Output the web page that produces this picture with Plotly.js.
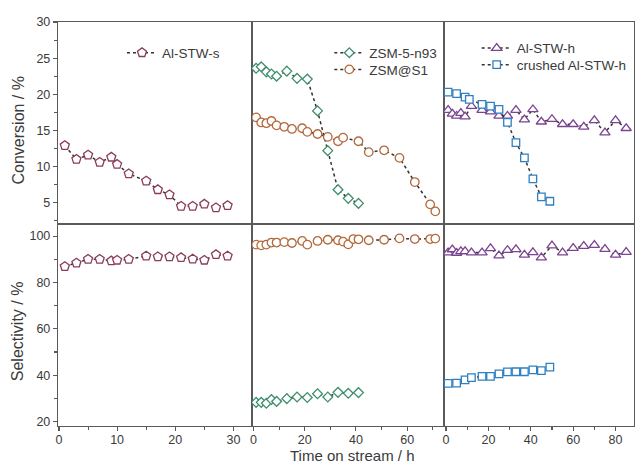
<!DOCTYPE html>
<html>
<head>
<meta charset="utf-8">
<script src="https://cdn.plot.ly/plotly-3.0.1.min.js"></script>
<style>html,body{margin:0;padding:0;background:#fff;}#chart{width:636px;height:464px;}</style>
</head>
<body>
<div id="chart"></div>
<script>
// ---- Data ----
const alstwsTime = [1,3,5,7,9,10,12,15,17,19,21,23,25,27,29];
const alstwsConv = [12.9,11.0,11.6,10.6,11.3,10.3,9.0,8.0,6.8,6.1,4.5,4.5,4.8,4.3,4.6];
const alstwsSel  = [86.9,88.4,90.0,90.0,89.3,89.6,90.0,91.4,91.1,91.1,90.7,90.1,89.6,92.0,91.4];

const zsm5Time = [1,3,5,7,9,13,17,21,25,29,33,37,41];
const zsm5Conv = [23.6,23.8,23.1,22.8,22.5,23.2,22.2,22.1,17.7,12.2,6.8,5.6,4.9];
const zsm5Sel  = [28.3,28.3,27.9,29.5,28.7,29.9,30.6,30.4,32.0,30.6,32.6,32.2,32.5];

const zsmS1TimeConv = [1,3,5,7,9,12,15,19,21,25,29,33,35,41,45,51,57,63,69,71];
const zsmS1Conv     = [16.8,16.1,16.0,16.3,15.7,15.5,15.2,15.3,14.8,14.5,14.1,13.5,14.0,13.5,12.0,12.25,11.2,7.85,4.76,3.8];
const zsmS1TimeSel  = [1,3,5,7,9,12,15,19,21,25,29,33,35,37,39,41,45,51,57,63,69,71];
const zsmS1Sel      = [96.3,96.0,96.3,97.2,97.2,97.4,97.0,97.9,96.3,97.9,98.4,98.2,97.6,96.4,98.7,98.6,98.2,98.4,99.0,98.7,98.7,98.9];

const alstwhTime = [1,3,5,7,9,12,17,21,25,29,33,37,41,45,50,55,60,65,70,75,80,85];
const alstwhConv = [17.8,17.3,17.0,17.4,16.9,18.35,17.8,17.6,17.0,17.0,17.8,16.5,17.9,16.2,16.55,15.85,15.85,15.5,16.4,14.7,16.4,15.3];
const alstwhSel  = [92.9,94.2,92.7,93.4,93.4,92.9,92.9,94.7,91.6,93.9,94.3,91.9,93.0,90.7,95.9,92.9,94.8,95.7,96.1,94.4,91.9,93.1];

const crushedTimeConv = [1,5,9,11,17,21,25,29,33,37,41,45,49];
const crushedConv     = [20.3,20.1,19.6,19.3,18.6,18.35,17.9,16.1,13.3,11.2,8.3,5.8,5.2];
const crushedTimeSel  = [1,5,9,12,17,21,25,29,33,37,41,45,49];
const crushedSel      = [36.5,36.6,38.0,39.0,39.5,39.5,40.6,41.4,41.5,41.5,42.3,42.0,43.5];

const xTickVals1 = [0,10,20,30];
const xTickVals2 = [0,20,40,60];
const xTickVals3 = [0,20,40,60,80];
const convTicks = [5,10,15,20,25,30];
const selTicks  = [20,40,60,80,100];

// ---- Styling ----
const W = 636, H = 464;
const px = v => v / W;
const py = v => 1 - v / H;
const FONT = 'Liberation Sans, Arial, sans-serif';
const AX = '#5a5a5a';
const TXT = '#3a3a3a';
const LINE = {color:'#333333', width:1.5, dash:'dot'};

const COL = {
  s: '#8b3c5c',
  zsm5: '#3e8e6c',
  s1: '#b3693c',
  h: '#7a4490',
  cr: '#2f80c2'
};

function tr(x, y, name, sym, size, col, xa, ya, legend, show) {
  return {
    x: x, y: y, name: name, type: 'scatter', mode: 'lines+markers',
    xaxis: xa, yaxis: ya,
    line: LINE,
    marker: {symbol: sym, size: size, color: '#ffffff', line: {color: col, width: 1.3}},
    showlegend: show, legend: legend,
    hoverinfo: 'skip'
  };
}

const data = [
  tr(alstwsTime, alstwsConv, 'Al-STW-s', 'pentagon', 9.5, COL.s, 'x', 'y', 'legend', true),
  tr(zsm5Time, zsm5Conv, 'ZSM-5-n93', 'diamond', 7.5, COL.zsm5, 'x2', 'y2', 'legend2', true),
  tr(zsmS1TimeConv, zsmS1Conv, 'ZSM@S1', 'circle', 8.5, COL.s1, 'x2', 'y2', 'legend3', true),
  tr(alstwhTime, alstwhConv, 'Al-STW-h', 'triangle-up', 9, COL.h, 'x3', 'y3', 'legend4', true),
  tr(crushedTimeConv, crushedConv, 'crushed Al-STW-h', 'square', 7.5, COL.cr, 'x3', 'y3', 'legend5', true),

  tr(alstwsTime, alstwsSel, 'Al-STW-s', 'pentagon', 9.5, COL.s, 'x4', 'y4', 'legend', false),
  tr(zsm5Time, zsm5Sel, 'ZSM-5-n93', 'diamond', 7.5, COL.zsm5, 'x5', 'y5', 'legend2', false),
  tr(zsmS1TimeSel, zsmS1Sel, 'ZSM@S1', 'circle', 8.5, COL.s1, 'x5', 'y5', 'legend3', false),
  tr(alstwhTime, alstwhSel, 'Al-STW-h', 'triangle-up', 9, COL.h, 'x6', 'y6', 'legend4', false),
  tr(crushedTimeSel, crushedSel, 'crushed Al-STW-h', 'square', 7.5, COL.cr, 'x6', 'y6', 'legend5', false)
];

// panel edges (px)
const XE = [58, 252, 444, 634];
const YTOP = [22, 224];
const YBOT = [224, 426];
const XR = [[-0.17, 33.2], [-0.6, 74.4], [-0.94, 88.7]];

function frameAxis(extra) {
  return Object.assign({
    showline: true, linecolor: AX, linewidth: 1.2, mirror: true,
    showgrid: false, zeroline: false, automargin: false,
    ticks: '', showticklabels: false, fixedrange: true
  }, extra);
}

const tickFont = {family: FONT, size: 12.5, color: TXT};
const xTickCommon = {ticks: 'outside', ticklen: 4, tickwidth: 1.1, tickcolor: AX, showticklabels: true,
  tickmode: 'array', tickfont: tickFont, ticklabelstandoff: -2};

const layout = {
  width: W, height: H, autosize: false,
  margin: {l: 0, r: 0, t: 0, b: 0},
  paper_bgcolor: '#ffffff', plot_bgcolor: '#ffffff',
  font: {family: FONT, color: TXT},
  xaxis:  frameAxis({domain: [px(XE[0]), px(XE[1])], range: XR[0], anchor: 'y'}),
  xaxis2: frameAxis({domain: [px(XE[1]), px(XE[2])], range: XR[1], anchor: 'y2'}),
  xaxis3: frameAxis({domain: [px(XE[2]), px(XE[3])], range: XR[2], anchor: 'y3'}),
  xaxis4: frameAxis(Object.assign({domain: [px(XE[0]), px(XE[1])], range: XR[0], anchor: 'y4',
    tickvals: xTickVals1,
    minor: {ticks: 'outside', ticklen: 2.5, tickwidth: 1.1, tickcolor: AX, dtick: 5, tick0: 0}}, xTickCommon)),
  xaxis5: frameAxis(Object.assign({domain: [px(XE[1]), px(XE[2])], range: XR[1], anchor: 'y5',
    tickvals: xTickVals2,
    minor: {ticks: 'outside', ticklen: 2.5, tickwidth: 1.1, tickcolor: AX, dtick: 10, tick0: 0}}, xTickCommon)),
  xaxis6: frameAxis(Object.assign({domain: [px(XE[2]), px(XE[3])], range: XR[2], anchor: 'y6',
    tickvals: xTickVals3,
    minor: {ticks: 'outside', ticklen: 2.5, tickwidth: 1.1, tickcolor: AX, dtick: 10, tick0: 0}}, xTickCommon)),
  yaxis:  frameAxis({domain: [py(YTOP[1]), py(YTOP[0])], range: [2.05, 30], anchor: 'x',
    ticks: 'outside', ticklen: 4, tickwidth: 1.1, tickcolor: AX, showticklabels: true,
    tickmode: 'array', tickvals: convTicks, tickfont: tickFont,
    minor: {ticks: 'outside', ticklen: 2.5, tickwidth: 1.1, tickcolor: AX, dtick: 2.5, tick0: 0}}),
  yaxis2: frameAxis({domain: [py(YTOP[1]), py(YTOP[0])], range: [2.05, 30], anchor: 'x2'}),
  yaxis3: frameAxis({domain: [py(YTOP[1]), py(YTOP[0])], range: [2.05, 30], anchor: 'x3'}),
  yaxis4: frameAxis({domain: [py(YBOT[1]), py(YBOT[0])], range: [18.1, 105.2], anchor: 'x4',
    ticks: 'outside', ticklen: 4, tickwidth: 1.1, tickcolor: AX, showticklabels: true,
    tickmode: 'array', tickvals: selTicks, tickfont: tickFont,
    minor: {ticks: 'outside', ticklen: 2.5, tickwidth: 1.1, tickcolor: AX, dtick: 10, tick0: 0}}),
  yaxis5: frameAxis({domain: [py(YBOT[1]), py(YBOT[0])], range: [18.1, 105.2], anchor: 'x5'}),
  yaxis6: frameAxis({domain: [py(YBOT[1]), py(YBOT[0])], range: [18.1, 105.2], anchor: 'x6'}),
  annotations: [
    {text: 'Conversion / %', xref: 'paper', yref: 'paper', x: px(17.5), y: py(130),
     textangle: -90, showarrow: false, xanchor: 'center', yanchor: 'middle',
     font: {family: FONT, size: 16, color: TXT}},
    {text: 'Selectivity / %', xref: 'paper', yref: 'paper', x: px(17.5), y: py(331.7),
     textangle: -90, showarrow: false, xanchor: 'center', yanchor: 'middle',
     font: {family: FONT, size: 16, color: TXT}},
    {text: 'Time on stream / h', xref: 'paper', yref: 'paper', x: px(351.7), y: py(465),
     showarrow: false, xanchor: 'center', yanchor: 'bottom', borderpad: 0,
     font: {family: FONT, size: 15, color: TXT}}
  ]
};

function leg(left, top) {
  return {x: px(left), y: py(top), xanchor: 'left', yanchor: 'top',
          bgcolor: 'rgba(0,0,0,0)', borderwidth: 0,
          font: {family: FONT, size: 13.5, color: TXT}};
}
layout.legend  = leg(122, 37.4);
layout.legend2 = leg(329.3, 37.4);
layout.legend3 = leg(329.3, 54.1);
layout.legend4 = leg(476.7, 32.8);
layout.legend5 = leg(476.7, 49.4);

Plotly.newPlot('chart', data, layout, {staticPlot: true, displayModeBar: false});
</script>
</body>
</html>
